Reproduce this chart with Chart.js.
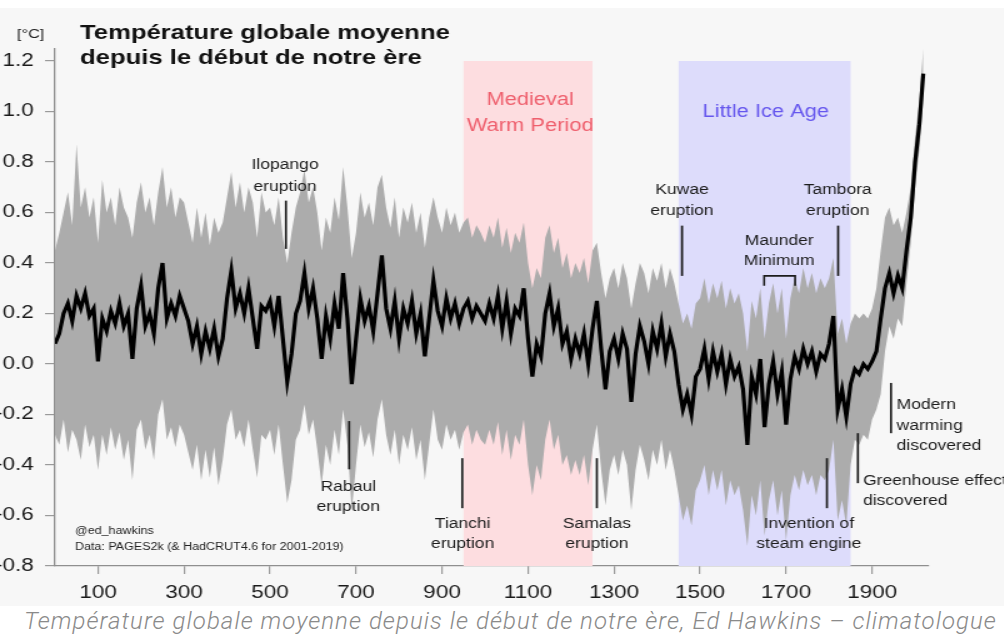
<!DOCTYPE html>
<html><head><meta charset="utf-8">
<script src="https://cdn.jsdelivr.net/npm/chart.js@4"></script>
<style>
html,body{margin:0;padding:0;background:#fff;width:1004px;height:637px;overflow:hidden;}
#bg{position:absolute;left:0;top:8px;width:1004px;height:598px;background:#f7f7f7;}
#stretch{position:absolute;left:0;top:0;width:803px;height:606px;transform:scaleX(1.25);transform-origin:0 0;}
#cap{position:absolute;left:0;top:606px;width:1004px;height:31px;background:#fff;font-family:Roboto,'Noto Sans',sans-serif;font-style:italic;font-weight:300;font-size:24px;letter-spacing:1.05px;color:#8a8a8a;white-space:nowrap;line-height:31px;padding-left:24px;box-sizing:border-box;overflow:hidden;}
</style></head>
<body>
<div id="bg"></div>
<div id="stretch"><canvas id="c" width="803" height="606"></canvas></div>
<div id="cap">Température globale moyenne depuis le début de notre ère, Ed Hawkins – climatologue</div>
<script>
// ---------------- DATA ----------------
const years = [
0,10,20,30,40,50,60,70,80,90,
100,110,120,130,140,150,160,170,180,190,
200,210,220,230,240,250,260,270,280,290,
300,310,320,330,340,350,360,370,380,390,
400,410,420,430,440,450,460,470,480,490,
500,510,520,530,540,550,560,570,580,590,
600,610,620,630,640,650,660,670,680,690,
700,710,720,730,740,750,760,770,780,790,
800,810,820,830,840,850,860,870,880,890,
900,910,920,930,940,950,960,970,980,990,
1000,1010,1020,1030,1040,1050,1060,1070,1080,1090,
1100,1110,1120,1130,1140,1150,1160,1170,1180,1190,
1200,1210,1220,1230,1240,1250,1260,1270,1280,1290,
1300,1310,1320,1330,1340,1350,1360,1370,1380,1390,
1400,1410,1420,1430,1440,1450,1460,1470,1480,1490,
1500,1510,1520,1530,1540,1550,1560,1570,1580,1590,
1600,1610,1620,1630,1640,1650,1660,1670,1680,1690,
1700,1710,1720,1730,1740,1750,1760,1770,1780,1790,
1800,1810,1820,1830,1840,1850,1860,1870,1880,1890,
1900,1910,1920,1930,1940,1950,1960,1970,1980,1990,
2000,2010,2019];

const meanTemp = [
0.08,0.12,0.20,0.24,0.17,0.27,0.22,0.28,0.19,0.22,
0.01,0.18,0.13,0.21,0.16,0.24,0.15,0.20,0.02,0.22,
0.31,0.15,0.20,0.12,0.30,0.40,0.18,0.24,0.19,0.27,
0.22,0.17,0.08,0.15,0.04,0.13,0.06,0.14,0.03,0.10,
0.26,0.37,0.22,0.28,0.20,0.30,0.18,0.06,0.23,0.21,
0.25,0.15,0.27,0.10,-0.07,0.04,0.20,0.25,0.36,0.22,
0.30,0.18,0.02,0.19,0.10,0.24,0.14,0.36,0.18,-0.08,
0.10,0.26,0.17,0.23,0.13,0.28,0.43,0.22,0.14,0.25,
0.10,0.22,0.16,0.25,0.12,0.20,0.03,0.18,0.33,0.21,
0.15,0.26,0.18,0.24,0.16,0.22,0.25,0.18,0.23,0.20,
0.17,0.24,0.18,0.27,0.14,0.25,0.12,0.22,0.19,0.30,
0.10,-0.05,0.08,0.03,0.20,0.28,0.15,0.22,0.08,0.13,
0.02,0.10,0.04,0.12,0.00,0.14,0.25,0.06,-0.10,0.05,
0.10,0.02,0.12,0.06,-0.15,0.04,0.15,0.09,0.00,0.13,
0.06,0.16,0.03,0.12,0.05,-0.08,-0.18,-0.12,-0.20,-0.05,
-0.02,0.06,-0.06,0.05,-0.03,0.04,-0.08,0.02,-0.05,-0.01,
-0.10,-0.32,-0.05,-0.12,0.02,-0.25,-0.08,0.01,-0.12,-0.03,
-0.24,-0.06,0.03,-0.02,0.06,0.00,0.05,-0.03,0.04,0.02,
0.08,0.19,-0.18,-0.10,-0.21,-0.08,-0.02,-0.04,0.00,-0.02,
0.01,0.05,0.18,0.30,0.36,0.28,0.35,0.30,0.45,0.58,
0.80,0.95,1.15];

const upperBand = [
0.45,0.52,0.60,0.68,0.55,0.87,0.62,0.70,0.58,0.66,
0.48,0.73,0.60,0.66,0.55,0.70,0.62,0.58,0.50,0.64,
0.72,0.60,0.66,0.55,0.68,0.78,0.62,0.70,0.58,0.66,
0.64,0.56,0.48,0.62,0.50,0.60,0.47,0.58,0.52,0.56,
0.66,0.76,0.62,0.72,0.60,0.70,0.64,0.50,0.68,0.60,
0.62,0.55,0.66,0.50,0.40,0.52,0.62,0.68,0.77,0.64,
0.70,0.60,0.45,0.58,0.52,0.66,0.57,0.78,0.62,0.42,
0.52,0.68,0.58,0.64,0.55,0.70,0.75,0.62,0.54,0.66,
0.50,0.62,0.56,0.64,0.52,0.60,0.46,0.58,0.66,0.58,
0.52,0.62,0.55,0.60,0.52,0.56,0.58,0.50,0.55,0.52,
0.48,0.55,0.50,0.58,0.46,0.54,0.44,0.52,0.48,0.56,
0.40,0.30,0.38,0.34,0.50,0.55,0.44,0.50,0.38,0.44,
0.34,0.40,0.36,0.42,0.32,0.45,0.48,0.36,0.26,0.34,
0.38,0.30,0.40,0.34,0.22,0.32,0.40,0.36,0.28,0.38,
0.33,0.40,0.30,0.38,0.32,0.24,0.16,0.20,0.14,0.24,
0.26,0.34,0.24,0.32,0.26,0.33,0.22,0.30,0.24,0.28,
0.20,0.05,0.25,0.18,0.30,0.10,0.24,0.32,0.20,0.30,
0.10,0.26,0.34,0.28,0.38,0.30,0.36,0.28,0.34,0.30,
0.34,0.42,0.12,0.18,0.08,0.16,0.20,0.18,0.20,0.18,
0.22,0.30,0.45,0.58,0.62,0.55,0.58,0.52,0.60,0.70,
0.90,1.05,1.25];

const lowerBand = [
-0.28,-0.32,-0.22,-0.35,-0.26,-0.30,-0.38,-0.24,-0.33,-0.28,
-0.42,-0.28,-0.36,-0.25,-0.34,-0.27,-0.38,-0.30,-0.46,-0.26,
-0.22,-0.34,-0.28,-0.38,-0.20,-0.14,-0.30,-0.25,-0.33,-0.24,
-0.28,-0.35,-0.42,-0.32,-0.46,-0.34,-0.45,-0.33,-0.48,-0.38,
-0.24,-0.18,-0.30,-0.26,-0.33,-0.22,-0.34,-0.45,-0.28,-0.30,
-0.26,-0.36,-0.24,-0.40,-0.55,-0.46,-0.30,-0.26,-0.16,-0.28,
-0.22,-0.34,-0.48,-0.32,-0.40,-0.26,-0.36,-0.18,-0.32,-0.58,
-0.40,-0.24,-0.33,-0.27,-0.37,-0.22,-0.14,-0.28,-0.36,-0.26,
-0.40,-0.28,-0.34,-0.25,-0.38,-0.30,-0.46,-0.32,-0.18,-0.30,
-0.34,-0.24,-0.30,-0.26,-0.34,-0.27,-0.24,-0.32,-0.26,-0.30,
-0.32,-0.26,-0.32,-0.23,-0.36,-0.26,-0.38,-0.28,-0.32,-0.22,
-0.40,-0.52,-0.40,-0.46,-0.30,-0.22,-0.34,-0.28,-0.40,-0.36,
-0.44,-0.38,-0.44,-0.36,-0.48,-0.34,-0.24,-0.42,-0.56,-0.42,
-0.36,-0.44,-0.34,-0.40,-0.58,-0.42,-0.32,-0.38,-0.46,-0.34,
-0.40,-0.30,-0.42,-0.34,-0.42,-0.52,-0.62,-0.56,-0.64,-0.50,
-0.46,-0.40,-0.52,-0.42,-0.50,-0.42,-0.56,-0.46,-0.52,-0.48,
-0.58,-0.72,-0.52,-0.60,-0.46,-0.68,-0.54,-0.46,-0.60,-0.50,
-0.70,-0.52,-0.44,-0.50,-0.42,-0.48,-0.44,-0.52,-0.44,-0.46,
-0.42,-0.30,-0.62,-0.54,-0.64,-0.40,-0.30,-0.32,-0.28,-0.30,
-0.22,-0.18,-0.12,0.05,0.15,0.10,0.18,0.15,0.32,0.48,
0.70,0.85,1.05];

const xTickValues = [100,300,500,700,900,1100,1300,1500,1700,1900];
const yTickValues = [-0.8,-0.6,-0.4,-0.2,0.0,0.2,0.4,0.6,0.8,1.0,1.2];

const periodNames = [["Medieval","Warm Period"],["Little Ice Age"]];
const periodStart = [950,1450];
const periodEnd = [1250,1850];

const eventNames = [
 ["Ilopango","eruption"],["Rabaul","eruption"],["Tianchi","eruption"],["Samalas","eruption"],
 ["Kuwae","eruption"],["Tambora","eruption"],["Invention of","steam engine"],
 ["Greenhouse effect","discovered"],["Modern","warming","discovered"]];
const eventYears = [537,684,947,1260,1458,1821,1795,1867,1944];
const maunderStart = 1649, maunderEnd = 1721;

// ---------------- LAYOUT / STYLE ----------------
const FONT = "'Liberation Sans', Arial, Helvetica, sans-serif";
const eventLayout = [
 {tx:535, ty:[0.786,0.702], align:'center', seg:[0.647,0.456]},
 {tx:682, ty:[-0.488,-0.567], align:'center', seg:[-0.226,-0.417]},
 {tx:948, ty:[-0.635,-0.714], align:'center', seg:[-0.373,-0.571]},
 {tx:1260, ty:[-0.635,-0.714], align:'center', seg:[-0.373,-0.571]},
 {tx:1458, ty:[0.687,0.605], align:'center', seg:[0.548,0.349]},
 {tx:1820, ty:[0.687,0.605], align:'center', seg:[0.548,0.349]},
 {tx:1753, ty:[-0.635,-0.714], align:'center', seg:[-0.373,-0.571]},
 {tx:1879, ty:[-0.464,-0.544], align:'left', seg:[-0.274,-0.472]},
 {tx:1957, ty:[-0.163,-0.246,-0.325], align:'left', seg:[-0.075,-0.274]}
];

const pts = arr => years.map((x,i)=>({x:x, y:arr[i]}));

const backPlugin = {
  id:'back',
  beforeDatasetsDraw(chart){
    const {ctx, scales:{x,y}} = chart;
    const cols = ['#fddde0','#dddcfb'];
    ctx.save();
    for(let i=0;i<periodStart.length;i++){
      const x0 = x.getPixelForValue(periodStart[i]), x1 = x.getPixelForValue(periodEnd[i]);
      const y0 = y.getPixelForValue(1.2), y1 = y.getPixelForValue(-0.8);
      ctx.fillStyle = cols[i];
      ctx.fillRect(x0, y0, x1-x0, y1-y0);
    }
    ctx.restore();
  }
};

const annPlugin = {
  id:'ann',
  afterDatasetsDraw(chart){
    const {ctx, scales:{x,y}} = chart;
    ctx.save();
    ctx.textAlign='center'; ctx.textBaseline='middle';
    ctx.font = "17.5px " + FONT;
    ctx.fillStyle = '#ef5f6d';
    ctx.fillText(periodNames[0][0], x.getPixelForValue(1105), y.getPixelForValue(1.044));
    ctx.fillText(periodNames[0][1], x.getPixelForValue(1105), y.getPixelForValue(0.940));
    ctx.fillStyle = '#6657ee';
    ctx.fillText(periodNames[1][0], x.getPixelForValue(1653), y.getPixelForValue(0.996));

    ctx.font = "14px " + FONT;
    ctx.fillStyle = '#1c1c1c';
    ctx.strokeStyle = '#1c1c1c';
    ctx.lineWidth = 1.7;
    eventNames.forEach((lines,i)=>{
      const L = eventLayout[i];
      const px = x.getPixelForValue(eventYears[i]);
      ctx.beginPath();
      ctx.moveTo(px, y.getPixelForValue(L.seg[0]));
      ctx.lineTo(px, y.getPixelForValue(L.seg[1]));
      ctx.stroke();
      ctx.textAlign = L.align;
      const tx = x.getPixelForValue(L.tx);
      lines.forEach((t,j)=> ctx.fillText(t, tx, y.getPixelForValue(L.ty[j])));
    });
    ctx.textAlign='center';
    const mx = x.getPixelForValue(1684);
    ctx.fillText("Maunder", mx, y.getPixelForValue(0.488));
    ctx.fillText("Minimum", mx, y.getPixelForValue(0.409));
    const bx0 = x.getPixelForValue(maunderStart), bx1 = x.getPixelForValue(maunderEnd);
    const by0 = y.getPixelForValue(0.349), by1 = y.getPixelForValue(0.31);
    ctx.lineWidth = 1.6;
    ctx.beginPath();
    ctx.moveTo(bx0, by1); ctx.lineTo(bx0, by0); ctx.lineTo(bx1, by0); ctx.lineTo(bx1, by1);
    ctx.stroke();

    ctx.textAlign='left';
    ctx.font = "10px " + FONT;
    ctx.fillStyle = '#222';
    ctx.fillText("@ed_hawkins", 60, 531);
    ctx.fillText("Data: PAGES2k (& HadCRUT4.6 for 2001-2019)", 60, 547);

    ctx.font = "bold 20.5px " + FONT;
    ctx.fillStyle = '#111';
    ctx.textBaseline='alphabetic';
    ctx.fillText("Température globale moyenne", 64, 38.5);
    ctx.fillText("depuis le début de notre ère", 64, 64);
    ctx.font = "13px " + FONT;
    ctx.fillStyle = '#222';
    ctx.fillText("[°C]", 13.6, 38);
    ctx.restore();
  }
};

new Chart(document.getElementById('c'), {
  type:'line',
  data:{datasets:[
    {label:'mean', data:pts(meanTemp), borderWidth:3.2, borderColor:'#000', pointRadius:0, fill:false, tension:0, borderJoinStyle:'miter'},
    {label:'upper', data:pts(upperBand), borderWidth:0, borderColor:'rgba(0,0,0,0)', pointRadius:0, backgroundColor:'#acacac', fill:'+1', tension:0},
    {label:'lower', data:pts(lowerBand), borderWidth:0, borderColor:'rgba(0,0,0,0)', pointRadius:0, backgroundColor:'#acacac', fill:false, tension:0}
  ]},
  options:{
    responsive:false, animation:false, devicePixelRatio:1,
    layout:{padding:{left:0, top:48.4, right:60.6, bottom:0}},
    plugins:{legend:{display:false}, tooltip:{enabled:false}},
    scales:{
      x:{type:'linear', min:0, max:2030,
        afterBuildTicks: s => { s.ticks = xTickValues.map(v=>({value:v})); },
        afterFit: s => { s.height = 40; },
        grid:{display:true, drawOnChartArea:false, drawTicks:true, tickLength:8, color:'#9a9a9a', lineWidth:1.2},
        border:{display:true, color:'#8f8f8f', width:1.3},
        ticks:{font:{family:FONT, size:18}, color:'#1a1a1a', padding:8, maxRotation:0, autoSkip:false,
          callback: v => String(v)}
      },
      y:{type:'linear', min:-0.8, max:1.25,
        afterBuildTicks: s => { s.ticks = yTickValues.map(v=>({value:v})); },
        afterFit: s => { s.width = 44; },
        grid:{display:true, drawOnChartArea:false, drawTicks:true, tickLength:8, color:'#9a9a9a', lineWidth:1.2},
        border:{display:true, color:'#8f8f8f', width:1.3},
        ticks:{font:{family:FONT, size:18}, color:'#1a1a1a', padding:9, autoSkip:false,
          callback: v => (v < -1e-9 ? '-' : '') + Math.abs(v).toFixed(1)}
      }
    }
  },
  plugins:[backPlugin, annPlugin]
});
</script>
</body></html>
